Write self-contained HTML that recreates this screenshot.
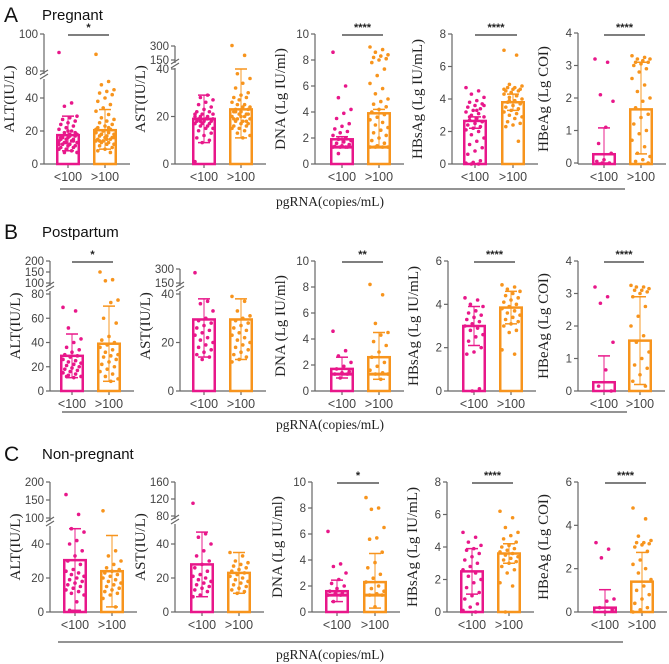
<!DOCTYPE html>
<html><head><meta charset="utf-8"><style>
body{margin:0;background:#fff;width:669px;height:664px;overflow:hidden}
svg{display:block}
.tk{font:11.5px "Liberation Sans",sans-serif;fill:#444}
.tt{font:15px "Liberation Serif",serif;fill:#222}
</style></head><body>
<svg id="fig" width="669" height="664" xmlns="http://www.w3.org/2000/svg"></svg>
<script>
// ---- data ----
const groups = ["<100", ">100"];
const panelNames = ["ALT","AST","DNA","HBsAg","HBeAg"];
const rowTitles = ["Pregnant","Postpartum","Non-pregnant"];
const rowLetters = ["A","B","C"];
const yTitles = ["ALT(IU/L)","AST(IU/L)","DNA (Lg IU/ml)","HBsAg (Lg IU/mL)","HBeAg (Lg COI)"];
// detection-limit band inside DNA bars (null = none)
const bandValues = [null,null,1.3,null,null];
// bar means [pink, orange] per panel
const meansA = [[17.5,20.5],[19,23],[1.9,3.9],[2.65,3.8],[0.27,1.65]];
const meansB = [[29,39],[29.5,29.5],[1.7,2.6],[3.0,3.85],[0.27,1.55]];
const meansC = [[30.5,24],[28,23],[1.6,2.3],[2.5,3.6],[0.2,1.4]];
// error bars [pinkLow,pinkHigh,orangeLow,orangeHigh]
const errA = [[8,29,9,33],[9,29,11,40],[1.3,2.1,1.35,4.2],[2.2,2.9,3.3,4.3],[0,1.08,0.28,3.1]];
const errB = [[11,47,8,70],[14,38,13,38],[1.0,2.6,0.9,4.5],[2.1,3.9,3.1,4.6],[0,1.08,0.2,2.9]];
const errC = [[1,49,3,45],[9,47,11,35],[0.8,2.45,0.3,4.5],[1.1,3.9,3.0,4.2],[0,1.03,0,2.75]];
const sigA = ["*","","****","****","****"];
const sigB = ["*","","**","****","****"];
const sigC = ["","","*","****","****"];
const ticksA = [[0,20,40,80,100],[0,20,40,150,300],[0,2,4,6,8,10],[0,2,4,6,8],[0,1,2,3,4]];
const ticksB = [[0,20,40,60,80,100,150,200],[0,20,40,150,300],[0,2,4,6,8,10],[0,2,4,6],[0,1,2,3,4]];
const ticksC = [[0,20,40,100,150,200],[0,20,40,80,120,160],[0,2,4,6,8,10],[0,2,4,6,8],[0,2,4,6]];
// individual points
const ptsA = [
 [[90,37,35,29,28,27,26,25,24,23,22,21,20,19,18,18,17,17,16,16,15,15,14,14,13,13,12,12,11,11,10,10,9,9,8,7,7,17,16,19,20,15,14,13,12],
  [89,50,48,45,44,43,42,40,38,36,34,32,30,28,27,26,25,24,23,22,21,20,19,19,18,18,17,17,16,16,15,15,14,14,13,13,12,12,11,10,9,8,7,20,21,22,18,16,15,14]],
 [[1,29,28,27,26,25,24,23,22,22,21,21,20,20,19,19,19,18,18,18,17,17,17,16,16,15,15,14,13,12,11,10,9,20,19,18,21],
  [305,200,38,36,34,32,30,29,28,28,27,26,25,25,24,24,23,23,22,22,21,21,20,20,19,19,18,18,17,17,16,16,15,15,14,13,12,11,22,21,20,19,18]],
 [[8.6,6.0,5.1,4.2,3.9,3.5,3.1,2.9,2.7,2.5,2.4,2.2,2.0,1.9,1.8,1.7,1.6,1.5,1.4,1.35,1.3,1.3,1.3,1.3,0.8],
  [9.0,8.8,8.6,8.4,8.3,8.2,8.1,8.0,7.8,7.3,6.8,6.2,5.8,5.4,5.0,4.8,4.6,4.4,4.2,4.0,3.8,3.6,3.4,3.2,3.0,2.8,2.6,2.4,2.2,2.0,1.8,1.6,1.4,1.3,1.3,1.3,1.3]],
 [[4.7,4.5,4.3,4.1,3.9,3.8,3.7,3.6,3.5,3.4,3.3,3.2,3.1,3.0,2.9,2.8,2.7,2.6,2.5,2.4,2.3,2.2,2.1,2.0,1.8,1.6,1.4,1.2,1.0,0.8,0.6,0.2,0.1,0.05,0.0,0.0,3.6,3.3,2.9],
  [7.0,6.7,4.9,4.8,4.7,4.7,4.6,4.6,4.5,4.5,4.4,4.3,4.2,4.1,4.0,3.9,3.8,3.7,3.6,3.5,3.4,3.3,3.2,3.1,3.0,2.9,2.8,2.6,2.5,2.4,2.3,1.4,4.4,4.6,4.2,3.9]],
 [[3.2,3.1,2.1,1.9,1.1,0.6,0.3,0.1,0.05,0.0,0.0],
  [3.3,3.25,3.2,3.2,3.15,3.1,3.1,3.05,3.0,2.9,2.8,2.6,2.4,2.2,2.0,1.9,1.7,1.5,1.4,1.2,1.0,0.9,0.7,0.5,0.3,0.2,0.1,0.05,0.0]]];
const ptsB = [
 [[69,66,52,43,40,36,34,32,30,29,28,26,25,24,23,22,21,20,19,18,17,16,15,14,13,12,11,12],
  [150,115,110,75,73,60,56,45,42,40,38,36,34,32,30,29,28,26,24,22,20,18,16,14,12,10,8]],
 [[260,37,36,33,30,29,28,27,26,25,24,23,22,21,20,19,18,17,16,15,14,13],
  [39,37,33,31,30,29,28,27,26,25,24,23,22,21,20,19,18,17,16,15,14,13,12]],
 [[4.6,3.1,2.7,2.2,1.9,1.7,1.5,1.4,1.3,1.3,1.0],
  [8.2,7.4,5.2,4.5,4.3,3.8,3.5,3.0,2.6,2.2,1.9,1.6,1.4,1.3,1.3,0.9]],
 [[4.3,4.2,4.0,3.9,3.7,3.6,3.5,3.4,3.3,3.2,3.1,3.0,2.9,2.8,2.6,2.5,2.3,2.0,1.8,1.7,0.1,0.0],
  [4.9,4.8,4.7,4.6,4.5,4.4,4.3,4.2,4.1,4.0,3.9,3.8,3.7,3.6,3.5,3.4,3.3,3.2,3.1,3.0,2.8,2.7,1.9,1.7]],
 [[3.2,2.9,2.7,1.5,0.65,0.15,0.0],
  [3.25,3.2,3.2,3.15,3.1,3.1,3.05,3.0,2.9,2.6,2.3,2.0,1.7,1.5,1.2,1.0,0.8,0.7,0.5,0.3,0.15]]];
const ptsC = [
 [[165,110,49,47,42,40,36,33,30,28,25,24,23,22,21,20,19,18,17,16,15,14,13,12,11,10,6,1],
  [120,36,33,30,28,26,25,24,23,22,21,20,19,18,17,16,15,14,13,12,11,10,8,3]],
 [[110,46,44,40,36,33,30,28,26,24,22,21,20,19,18,17,16,15,14,13,12,10,9],
  [35,33,30,29,28,27,26,25,24,23,22,21,20,19,18,17,16,15,14,13,12,11]],
 [[6.2,3.7,3.5,3.0,2.5,2.2,2.0,1.8,1.6,1.5,1.4,1.3,1.3,0.8],
  [8.8,8.0,7.9,6.5,5.7,5.6,4.6,3.8,3.4,2.9,2.6,2.3,2.0,1.8,1.6,1.4,1.3,1.3,0.4]],
 [[4.9,4.6,4.3,4.1,3.9,3.8,3.6,3.4,3.2,3.0,2.8,2.6,2.4,2.2,2.0,1.8,1.5,1.2,1.0,0.8,0.5,0.3,0.1,0.0],
  [6.2,5.8,5.2,4.9,4.7,4.5,4.3,4.1,4.0,3.9,3.8,3.7,3.6,3.5,3.4,3.3,3.2,3.1,3.0,2.8,2.6,2.4,1.8,1.6,0.0]],
 [[3.2,2.9,2.5,0.6,0.5,0.2,0.1,0.0],
  [4.8,4.3,3.5,3.3,3.2,3.2,3.15,3.1,3.0,2.8,2.4,2.2,2.0,1.8,1.5,1.2,1.0,0.8,0.6,0.4,0.2,0.1,0.0]]];

// ---- layout (axis scale segments: [v0,y0,v1,y1]) ----
const rows = [
 {means:meansA,err:errA,sig:sigA,ticks:ticksA,pts:ptsA,top:34,bot:164,lineY:189,lx0:60,lx1:625,hy:22,
  ax:[[44,56,93],[175,192,229],[315,330,367],[452,463,501],[578,592,629]],
  segs:[[[0,164,40,98],[80,71,100,34]],[[0,164,40,69],[150,60,300,46]],[[0,164,10,34]],[[0,164,8,34]],[[0,163,4,33]]]},
 {means:meansB,err:errB,sig:sigB,ticks:ticksB,pts:ptsB,top:261,bot:391,lineY:412,lx0:62,lx1:627,hy:239,
  ax:[[50,60,97],[180,192,229],[315,330,367],[448,462,499],[578,592,628]],
  segs:[[[0,391,80,294],[100,283,200,261]],[[0,391,40,294],[150,283,300,269]],[[0,391,10,261]],[[0,391,6,261]],[[0,391,4,261]]]},
 {means:meansC,err:errC,sig:sigC,ticks:ticksC,pts:ptsC,top:482,bot:612,lineY:642,lx0:58,lx1:623,hy:461,
  ax:[[50,63,100],[175,190,227],[312,325,363],[447,460,497],[578,593,630]],
  segs:[[[0,612,40,544],[100,518,200,482]],[[0,612,40,544],[80,516,160,482]],[[0,612,10,482]],[[0,612,8,482]],[[0,612,6,482]]]}
];
const COL = ["#e8178a","#f7941d"];
const NS = "http://www.w3.org/2000/svg";
const svg = document.getElementById("fig");
function mk(tag, attrs, parent, text){
  const e = document.createElementNS(NS, tag);
  for (const k in attrs) e.setAttribute(k, attrs[k]);
  if (text !== undefined) e.textContent = text;
  (parent||svg).appendChild(e); return e;
}
function scaleFn(segs){
  return function(v){
    let s = segs[0];
    for (const sg of segs) if (v >= sg[0]) s = sg;
    return s[1] + (v - s[0]) * (s[3] - s[1]) / (s[2] - s[0]);
  };
}
const BW = 24;
rows.forEach((r, ri) => {
  const hd = mk("text",{x:4,y:r.hy,style:'font:21px "Liberation Sans",sans-serif;fill:#111'});
  hd.textContent = rowLetters[ri];
  
  
  const ht = mk("text",{x:42,y:r.hy-2,style:'font:15px "Liberation Sans",sans-serif;fill:#111'});
  ht.textContent = rowTitles[ri];
  
  
  panelNames.forEach((pn, pi) => {
    const g = mk("g",{});
    
    
    const [axX, pL, oL] = r.ax[pi];
    const segs = r.segs[pi];
    const y = scaleFn(segs);
    const lefts = [pL, oL];
    const xEnd = oL + BW + 13;
    if (segs.length > 1) {
      const up = segs[1];
      mk("line",{x1:axX,y1:r.bot,x2:axX,y2:up[1]+8,stroke:"#666","stroke-width":1.2},g);
      mk("line",{x1:axX,y1:up[1]+3,x2:axX,y2:up[3],stroke:"#666","stroke-width":1.2},g);
      mk("line",{x1:axX-4,y1:up[1]+8,x2:axX+4,y2:up[1]+3,stroke:"#666","stroke-width":1.2},g);
      mk("line",{x1:axX-4,y1:up[1]+4,x2:axX+4,y2:up[1]-1,stroke:"#666","stroke-width":1.2},g);
    } else {
      mk("line",{x1:axX,y1:r.bot,x2:axX,y2:segs[0][3],stroke:"#666","stroke-width":1.2},g);
    }
    const xa = mk("line",{x1:axX,y1:r.bot,x2:xEnd,y2:r.bot,stroke:"#666","stroke-width":1.2},g);
    
    
    r.ticks[pi].forEach(t => {
      const ty = y(t);
      mk("line",{x1:axX-4,y1:ty,x2:axX,y2:ty,stroke:"#666","stroke-width":1.2},g);
      const tl = mk("text",{x:axX-6,y:ty+4,"text-anchor":"end","class":"tk"},g,String(t));
      
      
    });
    const yt = mk("text",{x:0,y:0,"text-anchor":"middle","class":"tt",transform:`translate(${axX-30},${(r.top+r.bot)/2}) rotate(-90)`},g,yTitles[pi]);
    
    
    [0,1].forEach(k => {
      const cx = lefts[k] + BW/2;
      const c = COL[k];
      mk("line",{x1:cx,y1:r.bot,x2:cx,y2:r.bot+4,stroke:"#666","stroke-width":1.2},g);
      const gl = mk("text",{x:cx,y:r.bot+17,"text-anchor":"middle","class":"tk",style:"font-size:12.5px"},g,groups[k]);
      
      
      const m = r.means[pi][k];
      const bar = mk("rect",{x:lefts[k]+1.25,y:y(m),width:BW-2.5,height:r.bot-y(m),fill:"none",stroke:c,"stroke-width":2.5},g);
      
      
      const bv = bandValues[pi];
      if (bv !== null) {
        const band = mk("line",{x1:lefts[k]+1,y1:y(bv),x2:lefts[k]+BW-1,y2:y(bv),stroke:c,"stroke-width":3},g);
        
        
      }
      const e = r.err[pi], lo = e[k*2], hi = e[k*2+1];
      mk("line",{x1:cx,y1:y(lo),x2:cx,y2:y(hi),stroke:c,"stroke-width":1.2,opacity:0.8},g);
      mk("line",{x1:cx-6,y1:y(hi),x2:cx+6,y2:y(hi),stroke:c,"stroke-width":1.5},g);
      mk("line",{x1:cx-6,y1:y(lo),x2:cx+6,y2:y(lo),stroke:c,"stroke-width":1.5},g);
      r.pts[pi][k].forEach((v, i) => {
        const dx = (((i*7)%11) - 5) * 1.8;
        const d = mk("circle",{cx:cx+dx,cy:y(v),r:1.8,fill:c},g);
        
        
      });
    });
    const s = r.sig[pi];
    if (s) {
      const x1 = pL + BW/2, x2 = oL + BW/2 + 4;
      const sl = mk("line",{x1:x1,y1:r.top+1,x2:x2,y2:r.top+1,stroke:"#333","stroke-width":1.2},g);
      
      
      const st = mk("text",{x:(x1+x2)/2,y:r.top-3,"text-anchor":"middle",style:'font:bold 11px "Liberation Sans",sans-serif;fill:#222'},g,s);
      
      
    }
  });
  const gl = mk("line",{x1:r.lx0,y1:r.lineY,x2:r.lx1,y2:r.lineY,stroke:"#555","stroke-width":1.3});
  
  
  const gt = mk("text",{x:330,y:r.lineY+17,"text-anchor":"middle",style:'font:13.5px "Liberation Serif",serif;fill:#222'},svg,"pgRNA(copies/mL)");
  
  
});
</script>
</body></html>
